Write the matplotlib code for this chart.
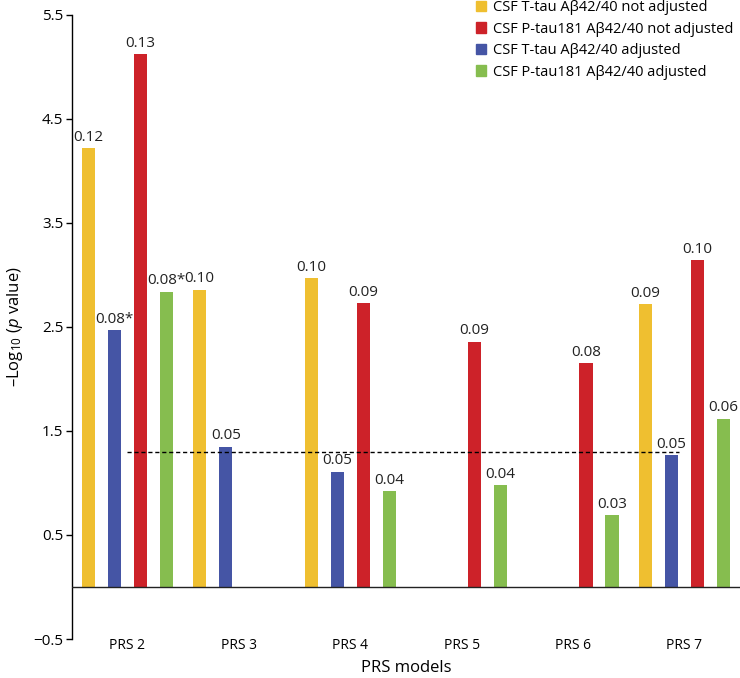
import numpy as np
import matplotlib
matplotlib.use('Agg')
import matplotlib.pyplot as plt

plt.rcParams['font.family'] = ['Open Sans', 'DejaVu Sans']
plt.rcParams['mathtext.fontset'] = 'custom'
plt.rcParams['mathtext.rm'] = 'Open Sans'
plt.rcParams['mathtext.it'] = 'Open Sans:italic'

models = ['PRS 2', 'PRS 3', 'PRS 4', 'PRS 5', 'PRS 6', 'PRS 7']

# -log10(p) per series, None where no bar is drawn
ttau_not_adj = [4.22, 2.86, 2.97, None, None, 2.72]
ttau_adj = [2.47, 1.35, 1.11, None, None, 1.27]
ptau_not_adj = [5.12, None, 2.73, 2.36, 2.15, 3.14]
ptau_adj = [2.84, None, 0.92, 0.98, 0.69, 1.62]

# bar annotations
ttau_not_adj_lbl = ['0.12', '0.10', '0.10', '', '', '0.09']
ttau_adj_lbl = ['0.08*', '0.05', '0.05', '', '', '0.05']
ptau_not_adj_lbl = ['0.13', '', '0.09', '0.09', '0.08', '0.10']
ptau_adj_lbl = ['0.08*', '', '0.04', '0.04', '0.03', '0.06']

threshold = -np.log10(0.05)

yellow = '#EFBF30'
blue = '#4555A5'
red = '#CD2229'
green = '#86BD4F'

fig = plt.figure(figsize=(7.4, 6.78), dpi=100)
ax = fig.add_axes([0.097, 0.0575, 0.903, 0.9205])

x = np.arange(len(models))
step = 0.234
width = 0.118

# drawing order inside each group: yellow, blue, red, green
series = [
    (ttau_not_adj, ttau_not_adj_lbl, yellow, -1.5),
    (ttau_adj, ttau_adj_lbl, blue, -0.5),
    (ptau_not_adj, ptau_not_adj_lbl, red, 0.5),
    (ptau_adj, ptau_adj_lbl, green, 1.5),
]

for vals, lbls, col, off in series:
    for i, v in enumerate(vals):
        if v is None:
            continue
        xi = x[i] + off * step
        ax.bar(xi, v, width=width, color=col, zorder=2)
        ax.text(xi, v + 0.03, lbls[i], ha='center', va='bottom', fontsize=11,
                color='#222222')

ax.axhline(0, color='#222222', lw=1, zorder=3)
ax.hlines(threshold, 0, 4.95, colors='black', linestyles=(0, (3, 2)), lw=1, zorder=4)

ax.set_xlim(-0.5, 5.5)
ax.set_ylim(-0.5, 5.5)
ax.set_yticks(np.arange(-0.5, 5.6, 1.0))
ax.set_yticklabels(['\u22120.5', '0.5', '1.5', '2.5', '3.5', '4.5', '5.5'])
ax.set_xticks(x)
ax.set_xticklabels(models)
ax.tick_params(axis='x', length=0, pad=-1, labelsize=10)
ax.tick_params(axis='y', length=4, width=1, labelsize=11, pad=2)

for s in ['top', 'right', 'bottom']:
    ax.spines[s].set_visible(False)
ax.spines['left'].set_linewidth(1)

ax.set_xlabel('PRS models', fontsize=12, labelpad=5)
ax.set_ylabel('\u2013Log$_{10}$ ($\\it{p}$ value)', fontsize=12, labelpad=6)

handles = [plt.Rectangle((0, 0), 1, 1, color=c) for c in [yellow, red, blue, green]]
names = ['CSF T-tau A\u03b242/40 not adjusted',
         'CSF P-tau181 A\u03b242/40 not adjusted',
         'CSF T-tau A\u03b242/40 adjusted',
         'CSF P-tau181 A\u03b242/40 adjusted']
ax.legend(handles, names, loc='upper right', bbox_to_anchor=(1.01, 1.045),
          frameon=False, fontsize=10.5, handlelength=0.7, handleheight=0.7,
          handletextpad=0.5, labelspacing=0.45)

fig.savefig('out.png', dpi=100)
